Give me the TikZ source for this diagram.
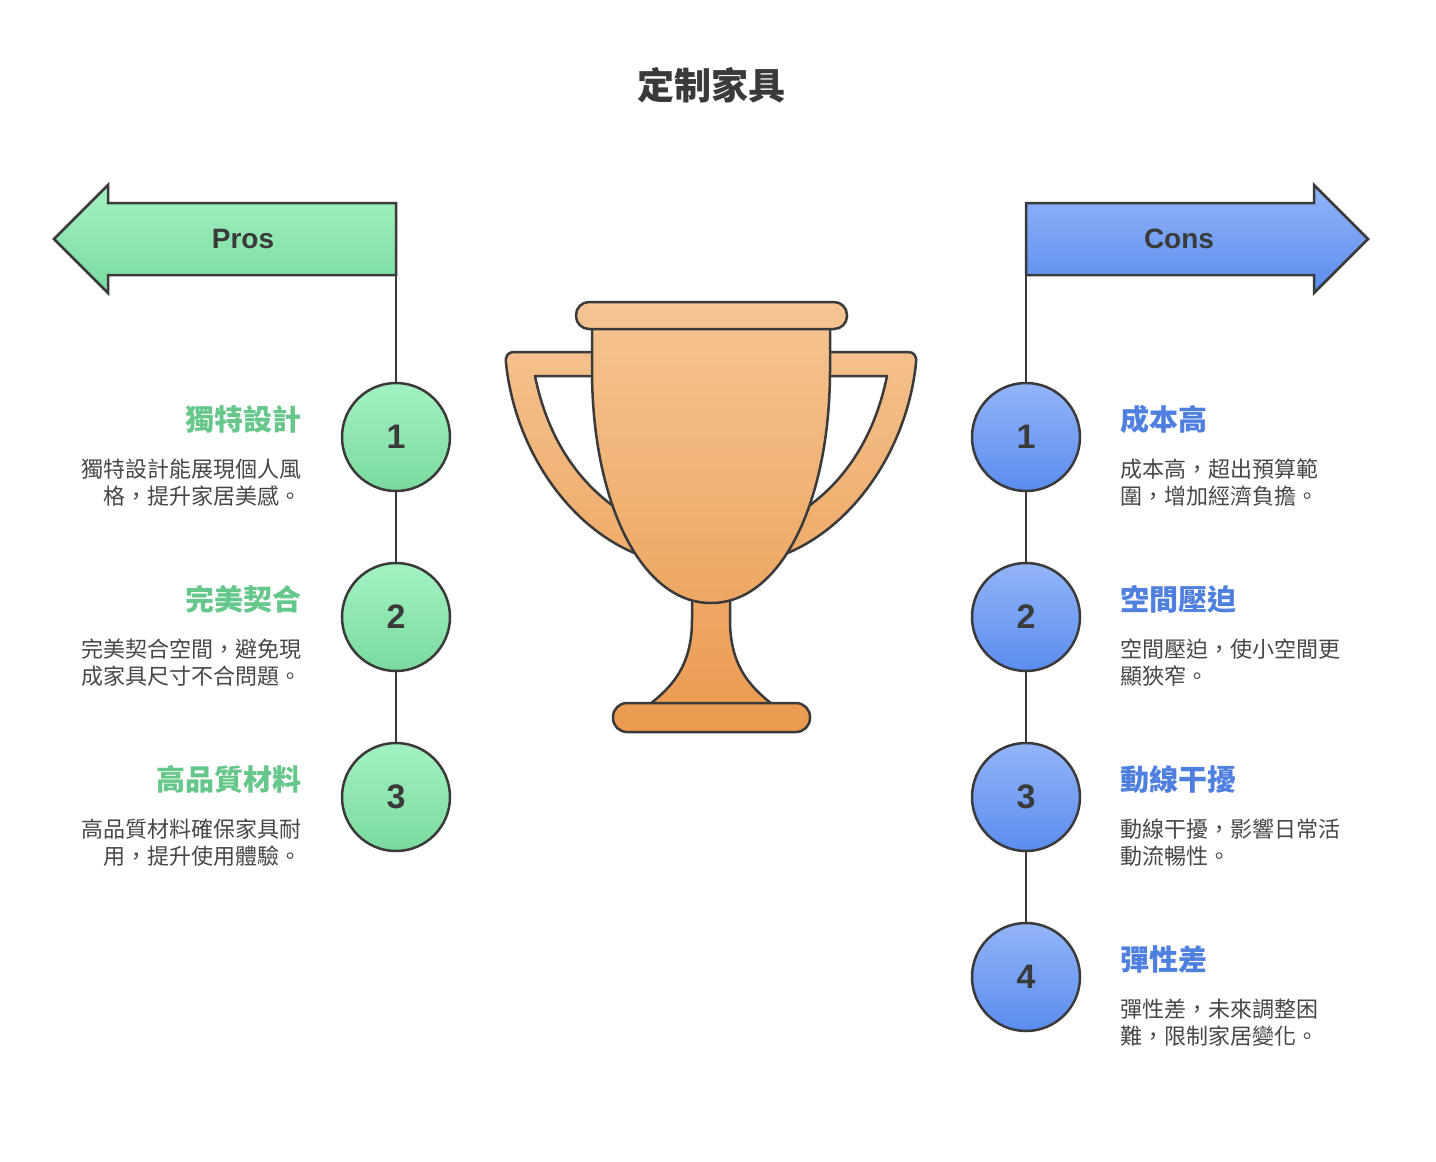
\documentclass[tikz,border=0pt]{standalone}
\usepackage{fontspec}
\setmainfont{Noto Sans CJK TC}
\newfontfamily\lat{Liberation Sans}
\definecolor{ink}{HTML}{3A3A3A}
\definecolor{txt}{HTML}{474747}
\definecolor{gtop}{HTML}{A3F2C2}
\definecolor{gbot}{HTML}{7ADB9D}
\definecolor{btop}{HTML}{93B4F7}
\definecolor{bbot}{HTML}{5A8DEF}
\definecolor{ghead}{HTML}{66C78A}
\definecolor{bhead}{HTML}{4F7FDF}
\definecolor{tt}{HTML}{F5C593}
\definecolor{tb}{HTML}{EB9A4F}
\tikzset{
  outl/.style={draw=ink, line width=2.5pt, line join=round},
  conn/.style={draw=ink, line width=2.5pt},
  gfill/.style={top color=gtop, bottom color=gbot},
  bfill/.style={top color=btop, bottom color=bbot},
  circ/.style={circle, outl, minimum size=108pt, inner sep=0pt, text=ink,
    font=\lat\bfseries\fontsize{34}{34}\selectfont},
  arrowlabel/.style={text=ink, font=\lat\bfseries\fontsize{28}{28}\selectfont},
  headtxt/.style={inner sep=0pt, font=\bfseries\fontsize{29}{29}\selectfont},
  desctxt/.style={inner sep=0pt, text=txt, font=\fontsize{22}{27}\selectfont},
}
\begin{document}
\begin{tikzpicture}[x=1pt,y=-1pt]
\useasboundingbox[fill=white] (0,0) rectangle (1436,1162);

% title
\node[anchor=base, text=ink, font=\bfseries\fontsize{37}{37}\selectfont] (title) at (711,99) {定制家具};

% trophy
\draw[outl, top color=tb!12!tt, bottom color=tb!59!tt]
  (600,352) -- (514,352) .. controls (508,352) and (505,356) .. (506,363)
  .. controls (515,450) and (570,530) .. (642,556) -- (622,512)
  .. controls (580,485) and (548,440) .. (535,376) -- (600,376) -- cycle;
\draw[outl, top color=tb!12!tt, bottom color=tb!59!tt]
  (822,352) -- (908,352) .. controls (914,352) and (917,356) .. (916,363)
  .. controls (907,450) and (852,530) .. (780,556) -- (800,512)
  .. controls (842,485) and (874,440) .. (887,376) -- (822,376) -- cycle;
\draw[outl, top color=tb!67!tt, bottom color=tb!94!tt]
  (692,590) -- (692,620) .. controls (692,670) and (668,690) .. (645,708)
  -- (777,708) .. controls (754,690) and (730,670) .. (730,620) -- (730,590) -- cycle;
\draw[outl, top color=tb!6!tt, bottom color=tb!70!tt]
  (592,326) -- (592,370) .. controls (592,500) and (640,603) .. (711,603)
  .. controls (782,603) and (830,500) .. (830,370) -- (830,326) -- cycle;
\draw[outl, rounded corners=13pt, top color=tt, bottom color=tb!6!tt]
  (576,302) rectangle (847,329);
\draw[outl, rounded corners=14pt, top color=tb!93!tt, bottom color=tb]
  (613,703) rectangle (810,732);

% arrows
\draw[outl, line join=miter, gfill]
  (396,203) -- (108,203) -- (108,185) -- (54,239) -- (108,293) -- (108,275) -- (396,275) -- cycle;
\node[arrowlabel] (pros) at (243,239) {Pros};
\draw[outl, line join=miter, bfill]
  (1026,203) -- (1314,203) -- (1314,185) -- (1368,239) -- (1314,293) -- (1314,275) -- (1026,275) -- cycle;
\node[arrowlabel] (cons) at (1179,239) {Cons};
\coordinate (pa) at (396,275);
\coordinate (ca) at (1026,275);

% circles
\node[circ, gfill] (p1) at (396,437) {1};
\node[circ, gfill] (p2) at (396,617) {2};
\node[circ, gfill] (p3) at (396,797) {3};
\node[circ, bfill] (c1) at (1026,437) {1};
\node[circ, bfill] (c2) at (1026,617) {2};
\node[circ, bfill] (c3) at (1026,797) {3};
\node[circ, bfill] (c4) at (1026,977) {4};

\draw[conn] (pa) -- (p1.north) (p1.south) -- (p2.north) (p2.south) -- (p3.north);
\draw[conn] (ca) -- (c1.north) (c1.south) -- (c2.north) (c2.south) -- (c3.north) (c3.south) -- (c4.north);

% pros texts
\node[headtxt, text=ghead, anchor=base east] (ph1) at (302,430) {獨特設計};
\node[desctxt, align=right, anchor=base east] (pd1) at (302,504) {獨特設計能展現個人風\\格，提升家居美感。};
\node[headtxt, text=ghead, anchor=base east] (ph2) at (302,610) {完美契合};
\node[desctxt, align=right, anchor=base east] (pd2) at (302,684) {完美契合空間，避免現\\成家具尺寸不合問題。};
\node[headtxt, text=ghead, anchor=base east] (ph3) at (302,790) {高品質材料};
\node[desctxt, align=right, anchor=base east] (pd3) at (302,864) {高品質材料確保家具耐\\用，提升使用體驗。};

% cons texts
\node[headtxt, text=bhead, anchor=base west] (ch1) at (1120,430) {成本高};
\node[desctxt, align=left, anchor=base west] (cd1) at (1120,504) {成本高，超出預算範\\圍，增加經濟負擔。};
\node[headtxt, text=bhead, anchor=base west] (ch2) at (1120,610) {空間壓迫};
\node[desctxt, align=left, anchor=base west] (cd2) at (1120,684) {空間壓迫，使小空間更\\顯狹窄。};
\node[headtxt, text=bhead, anchor=base west] (ch3) at (1120,790) {動線干擾};
\node[desctxt, align=left, anchor=base west] (cd3) at (1120,864) {動線干擾，影響日常活\\動流暢性。};
\node[headtxt, text=bhead, anchor=base west] (ch4) at (1120,970) {彈性差};
\node[desctxt, align=left, anchor=base west] (cd4) at (1120,1044) {彈性差，未來調整困\\難，限制家居變化。};
\end{tikzpicture}
\end{document}
